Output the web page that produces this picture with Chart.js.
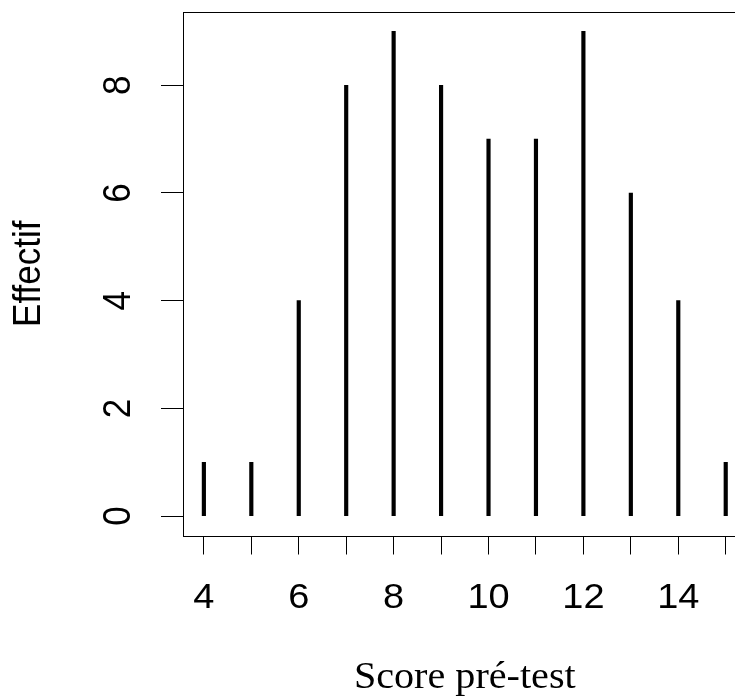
<!DOCTYPE html>
<html>
<head>
<meta charset="utf-8">
<script src="https://cdn.jsdelivr.net/npm/chart.js@4.4.1/dist/chart.umd.min.js"></script>
<style>
  html, body { margin: 0; padding: 0; background: #fff; overflow: hidden; width: 735px; height: 699px; }
  #wrap { width: 760px; height: 699px; }
</style>
</head>
<body>
<div id="wrap"><canvas id="c" width="760" height="699"></canvas></div>
<script>
// Frequency of pre-test scores
const scores = [4, 5, 6, 7, 8, 9, 10, 11, 12, 13, 14, 15];
const counts = [1, 1, 4, 8, 9, 8, 7, 7, 9, 6, 4, 1];

// Axis ticks and their labels
const xTicks = [4, 5, 6, 7, 8, 9, 10, 11, 12, 13, 14, 15];
const xTickLabels = ['4', '', '6', '', '8', '', '10', '', '12', '', '14', ''];
const yTicks = [0, 2, 4, 6, 8];
const yTickLabels = ['0', '2', '4', '6', '8'];

const xTitle = 'Score pré-test';
const yTitle = 'Effectif';

// Axis ranges padded 4% on each side
const xRange = [3.56, 15.44];
const yRange = [-0.36, 9.36];

const points = scores.map((s, i) => ({ x: s, y: counts[i] }));

const SANS = '"Liberation Sans", Arial, sans-serif';
const SERIF = '"Liberation Serif", "Times New Roman", serif';
const STRETCH = 1.085;

function drawText(ctx, text, x, y, opts) {
  ctx.save();
  ctx.translate(x, y);
  ctx.scale(STRETCH, 1);
  if (opts.rotate) ctx.rotate(opts.rotate);
  ctx.font = opts.font;
  ctx.fillStyle = '#000';
  ctx.textAlign = 'center';
  ctx.textBaseline = 'alphabetic';
  ctx.fillText(text, 0, 0);
  ctx.restore();
}

const framePlugin = {
  id: 'frame',
  beforeDraw(chart) {
    const ctx = chart.ctx;
    ctx.save();
    ctx.fillStyle = '#fff';
    ctx.fillRect(0, 0, chart.width, chart.height);
    ctx.restore();
  },
  afterDraw(chart) {
    const ctx = chart.ctx;
    const a = chart.chartArea;
    const xs = chart.scales.x, ys = chart.scales.y;

    // plot box
    ctx.save();
    ctx.strokeStyle = '#000';
    ctx.lineWidth = 1;
    ctx.strokeRect(Math.round(a.left) + 0.5, Math.round(a.top) + 0.5,
                   Math.round(a.right - a.left), Math.round(a.bottom - a.top));
    ctx.restore();

    // x tick labels
    xTicks.forEach((v, i) => {
      if (!xTickLabels[i]) return;
      drawText(ctx, xTickLabels[i], xs.getPixelForValue(v), 607.5, { font: '35px ' + SANS });
    });
    // y tick labels (rotated)
    yTicks.forEach((v, i) => {
      drawText(ctx, yTickLabels[i], 130, ys.getPixelForValue(v), { font: '35px ' + SANS, rotate: -Math.PI / 2 });
    });

    // axis titles
    drawText(ctx, xTitle, (a.left + a.right) / 2, 688, { font: '37px ' + SERIF });
    drawText(ctx, yTitle, 40, (a.top + a.bottom) / 2, { font: '35px ' + SANS, rotate: -Math.PI / 2 });
  }
};

new Chart(document.getElementById('c'), {
  type: 'bar',
  data: {
    datasets: [{
      data: points,
      backgroundColor: '#000',
      borderWidth: 0,
      barThickness: 3.5
    }]
  },
  options: {
    responsive: false,
    animation: false,
    devicePixelRatio: 1,
    layout: { padding: { top: 12, right: 13.4, left: 0, bottom: 0 } },
    plugins: { legend: { display: false }, tooltip: { enabled: false } },
    scales: {
      x: {
        type: 'linear',
        min: xRange[0],
        max: xRange[1],
        offset: false,
        afterBuildTicks(scale) { scale.ticks = xTicks.map(v => ({ value: v })); },
        afterFit(scale) { scale.height = 163.5; },
        ticks: { display: false },
        border: { display: false },
        grid: { offset: false, drawOnChartArea: false, drawTicks: true, tickLength: 19, color: '#000', lineWidth: 1 }
      },
      y: {
        type: 'linear',
        min: yRange[0],
        max: yRange[1],
        afterBuildTicks(scale) { scale.ticks = yTicks.map(v => ({ value: v })); },
        afterFit(scale) { scale.width = 183; },
        ticks: { display: false },
        border: { display: false },
        grid: { drawOnChartArea: false, drawTicks: true, tickLength: 22, color: '#000', lineWidth: 1 }
      }
    }
  },
  plugins: [framePlugin]
});
</script>
</body>
</html>
